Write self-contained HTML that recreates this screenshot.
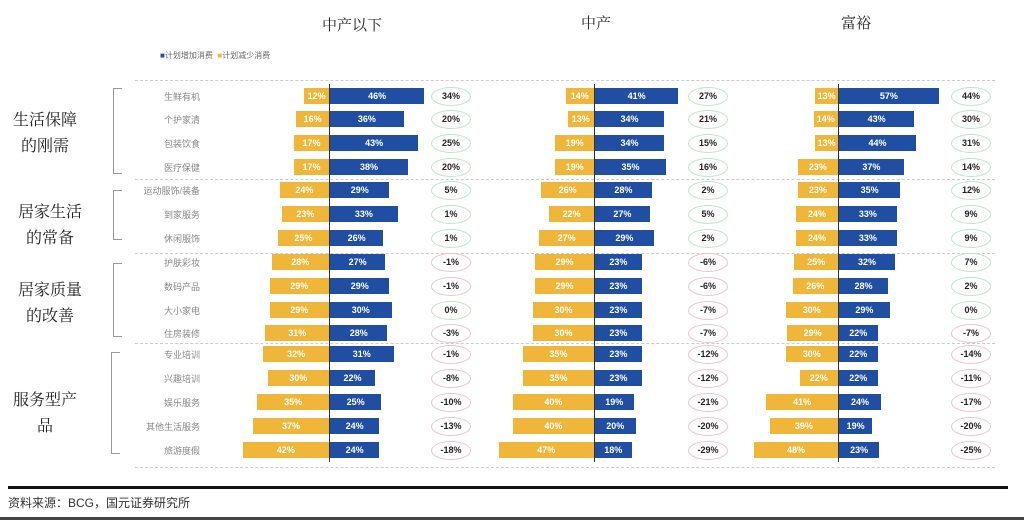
<!DOCTYPE html><html><head><meta charset="utf-8"><style>
body{margin:0;width:1024px;height:520px;background:#fff;position:relative;overflow:hidden;font-family:"Liberation Sans","Noto Sans CJK SC",sans-serif}
div{position:absolute}
.t{font-size:15px;color:#222;font-family:"Noto Serif CJK SC","Liberation Serif",serif}
.b{height:16px;color:#fff;font-size:9px;font-weight:bold;text-align:center;line-height:16px}
.o{width:38px;height:17px;border-radius:50%;font-size:9px;font-weight:bold;text-align:center;line-height:17px;color:#222;background:#fff}
.l{font-size:9px;color:#888;text-align:right;width:80px}
.g{font-size:16px;color:#222;text-align:center;width:90px;line-height:26px;font-family:"Noto Serif CJK SC",serif}
.d{left:135px;width:860px;border-top:1px dashed #ccc;height:0}
.br{width:8px;border:1px solid #999;border-right:none}
</style></head><body>
<div class="t" style="left:322px;top:14px">中产以下</div>
<div class="t" style="left:581px;top:12px">中产</div>
<div class="t" style="left:841px;top:12px">富裕</div>
<div style="left:160px;top:50px;font-size:8px;color:#666"><span style="color:#1f4ea3">■</span>计划增加消费 &nbsp;<span style="color:#f0b63a">■</span>计划减少消费</div>
<div class="d" style="top:80px"></div><div class="d" style="top:179px"></div><div class="d" style="top:253px"></div><div class="d" style="top:343px"></div><div class="d" style="top:467px"></div>
<div class="g" style="left:0;top:106px">生活保障<br>的刚需</div>
<div class="g" style="left:5px;top:198px">居家生活<br>的常备</div>
<div class="g" style="left:5px;top:276px">居家质量<br>的改善</div>
<div class="g" style="left:0;top:386px">服务型产<br>品</div>
<div class="br" style="left:113px;top:88px;height:84px"></div>
<div class="br" style="left:113px;top:190px;height:48px"></div>
<div class="br" style="left:113px;top:263px;height:72px"></div>
<div class="br" style="left:111px;top:352px;height:100px"></div>
<div style="left:8px;top:486px;width:1000px;height:3px;background:#111"></div>
<div style="left:8px;top:494px;font-size:12px;color:#333">资料来源：BCG，国元证券研究所</div>
<div style="left:0;top:517px;width:1024px;height:3px;background:#444"></div>
<div id="c"></div>
<script>
var ys=[96,119,143,167,190,214,238,262,286,310,333,354,378,402,426,450];
var labs=["生鲜有机","个护家清","包装饮食","医疗保健","运动服饰/装备","到家服务","休闲服饰","护肤彩妆","数码产品","大小家电","住房装修","专业培训","兴趣培训","娱乐服务","其他生活服务","旅游度假"];
var P=[{x:329,s:2.05,o:450,y:[12,16,17,17,24,23,25,28,29,29,31,32,30,35,37,42],b:[46,36,43,38,29,33,26,27,29,30,28,31,22,25,24,24],d:[34,20,25,20,5,1,1,-1,-1,0,-3,-1,-8,-10,-13,-18]},
{x:594,s:2.03,o:707,y:[14,13,19,19,26,22,27,29,29,30,30,35,35,40,40,47],b:[41,34,34,35,28,27,29,23,23,23,23,23,23,19,20,18],d:[27,21,15,16,2,5,2,-6,-6,-7,-7,-12,-12,-21,-20,-29]},
{x:838,s:1.75,o:970,y:[13,14,13,23,23,24,24,25,26,30,29,30,22,41,39,48],b:[57,43,44,37,35,33,33,32,28,29,22,22,22,24,19,23],d:[44,30,31,14,12,9,9,7,2,0,-7,-14,-11,-17,-20,-25]}];
var h="";
ys.forEach(function(y,i){h+='<div class="l" style="left:120px;top:'+(y-6)+'px">'+labs[i]+'</div>';});
P.forEach(function(p){
h+='<div style="left:'+p.x+'px;top:84px;width:1px;height:378px;background:#333"></div>';
ys.forEach(function(y,i){
var wy=p.y[i]*p.s,wb=p.b[i]*p.s;
h+='<div class="b" style="background:#f0b63a;left:'+(p.x-wy)+'px;top:'+(y-8)+'px;width:'+wy+'px">'+p.y[i]+'%</div>';
h+='<div class="b" style="background:#1f4ea3;left:'+(p.x+1)+'px;top:'+(y-8)+'px;width:'+wb+'px">'+p.b[i]+'%</div>';
h+='<div class="o" style="left:'+(p.o-19)+'px;top:'+(y-9)+'px;border:1px solid '+(p.d[i]>=0?'#bfe3cc':'#ecc3cf')+'">'+p.d[i]+'%</div>';
});});
document.getElementById("c").outerHTML=h;
</script>
</body></html>
